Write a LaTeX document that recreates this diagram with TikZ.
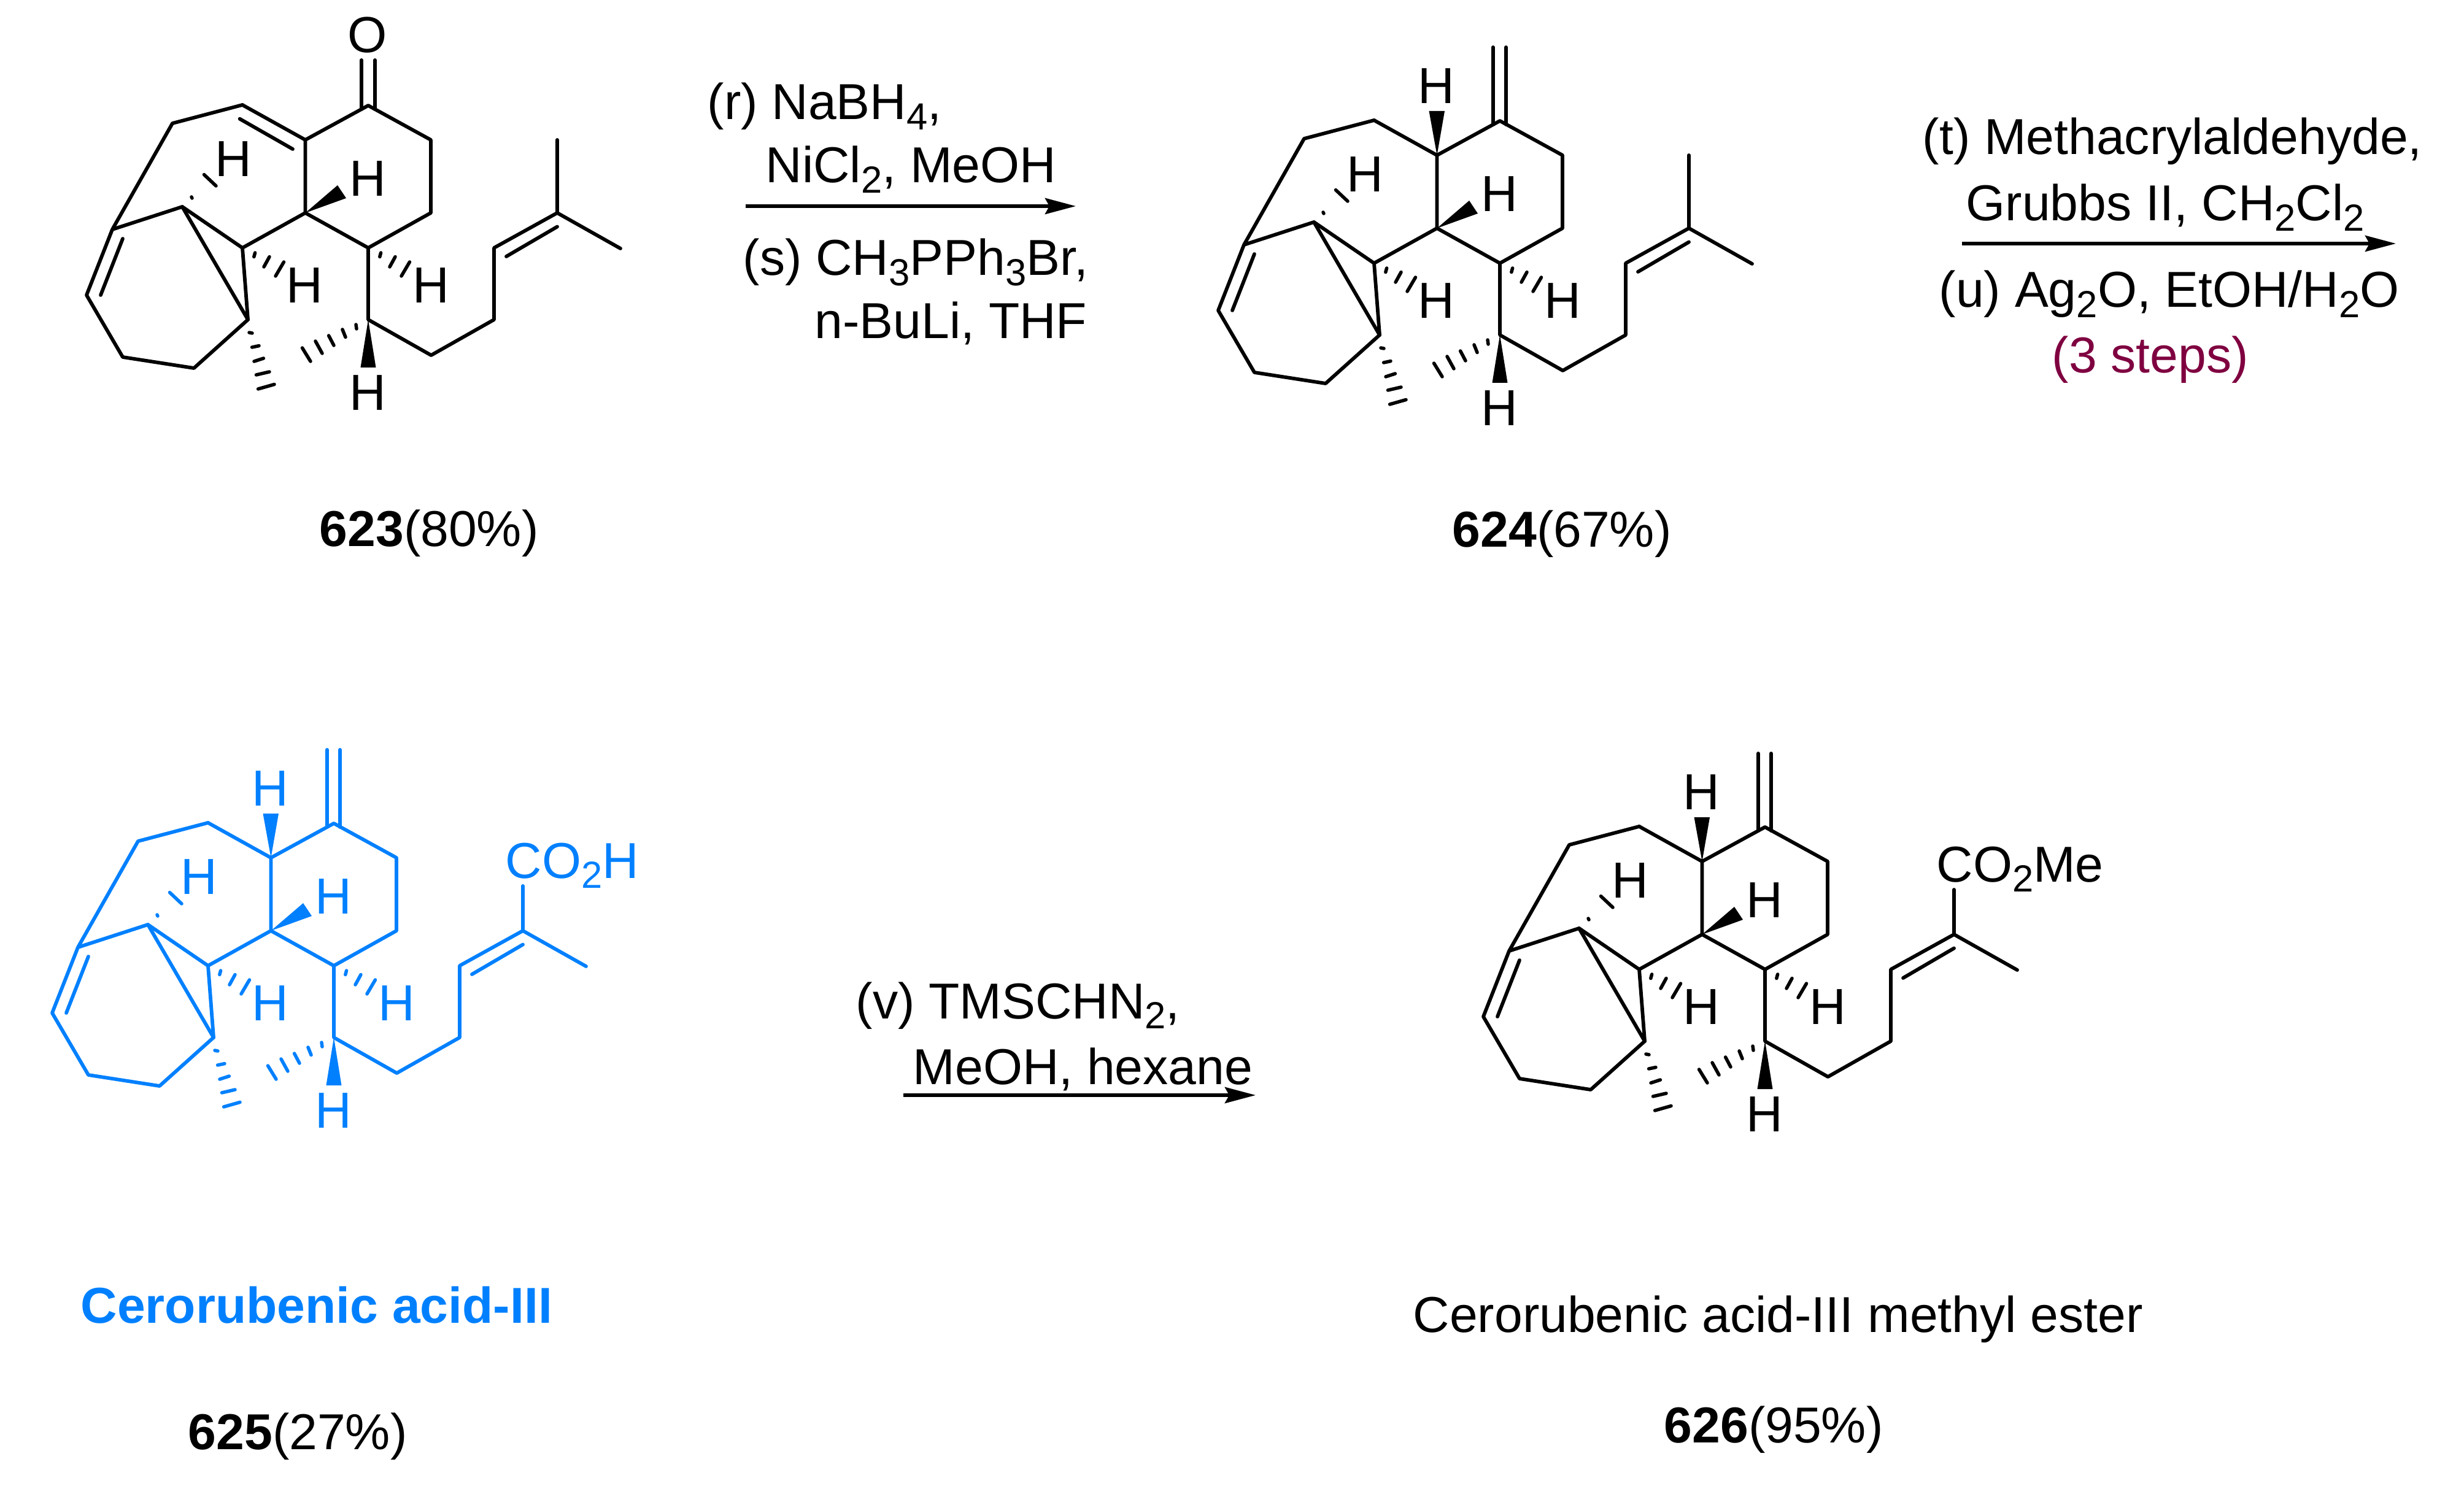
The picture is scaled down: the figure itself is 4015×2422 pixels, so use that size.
\documentclass[tikz,border=0pt]{standalone}
\usepackage{fontspec}
\setmainfont{Liberation Sans}
\usetikzlibrary{arrows.meta}
\definecolor{acidblue}{RGB}{0,128,255}
\definecolor{stepred}{RGB}{127,0,64}
\newcommand{\chemsub}[1]{\raisebox{-0.2em}{\fontsize{17.5}{17.5}\selectfont #1}}
\tikzset{
	bond/.style={line width=.058cm,line cap=round,line join=round},
	hashbond/.style={line width=.055cm,line cap=round},
	atom/.style={inner sep=0pt,font=\fontsize{23.5}{26}\selectfont},
	reagent/.style={anchor=base west,inner sep=0pt,font=\fontsize{23.4}{28}\selectfont},
	rxnarrow/.style={line width=.058cm,-{Stealth[length=.5cm,width=.26cm,inset=.07cm]}},
	% the ring system shared by all four molecules
	skeleton/.pic={
		\coordinate (c1) at (600,172);
		\coordinate (c2) at (702,228);
		\coordinate (c3) at (702,347);
		\coordinate (c4) at (600,404);
		\coordinate (c5) at (497.5,347);
		\coordinate (c6) at (497.5,228);
		\coordinate (c7) at (395,171);
		\coordinate (c8) at (281,201);
		\coordinate (c9) at (183,374);
		\coordinate (c10) at (141,481);
		\coordinate (c11) at (200,582);
		\coordinate (c12) at (316,600);
		\coordinate (c13) at (404,521);
		\coordinate (c14) at (297,337);
		\coordinate (c15) at (395,404);
		\coordinate (c16) at (600,521);
		\coordinate (c17) at (702.5,579);
		\coordinate (c18) at (805,521);
		\coordinate (c19) at (805,404);
		\coordinate (c20) at (908,347);
		\coordinate (c22) at (1011,405);
		\draw[bond] (c7)--(c8)--(c9)--(c10)--(c11)--(c12)--(c13)--(c14)--(c9);
		\draw[bond] (c6)--(c1)--(c2)--(c3)--(c4)--(c5)--(c6);
		\draw[bond] (c5)--(c15)--(c14) (c15)--(c13);
		\draw[bond] (c4)--(c16)--(c17)--(c18)--(c19)--(c20)--(c22);
		\draw[bond] (200,389)--(164,481) (825,418)--(908,369.5);
		\fill (c5)--(550,302)--(564,323)--cycle;
		\fill (c16)--(587.5,599)--(612.5,599)--cycle;
		\foreach \x/\y/\u/\v in {
			312/321/313/323, 332.5/284.6/352/303,
			415.6/412/413.8/418.6, 439/418.6/430/435, 462.5/427/449/450,
			620.6/412/618.8/418.6, 644/418.6/635/435, 667.5/427/654/450,
			580/529/581/536, 558/537/563/549.5, 535.6/547/544/563, 514/556/525/576, 492.5/567/506/589,
			406/542/411/543, 410.6/566/422/563.6, 414/589/429.4/584, 417.5/611/439/606, 420.6/634/447/626.5}
			\draw[hashbond] (\x,\y)--(\u,\v);
		\node[atom] (ha) at (380,259) {H};
		\node[atom] (hb) at (599,291) {H};
		\node[atom] (hc) at (496,465) {H};
		\node[atom] (hd) at (702,465) {H};
		\node[atom] (he) at (599,640) {H};
	},
	% exocyclic C=CH2 with the H on the ring fusion
	methylene/.pic={
		\draw[bond] (c6)--(c7);
		\draw[bond] (589,178)--(589,52) (610,178)--(610,52);
		\fill (c6)--(484.5,156)--(510,156)--cycle;
		\node[atom] (hf) at (496,115) {H};
	},
	isopropylidene/.pic={
		\coordinate (c21) at (908,228);
		\draw[bond] (c20)--(c21);
	},
	estertail/.pic={
		\coordinate (c21) at (908,274);
		\draw[bond] (c20)--(c21);
	}
}
\begin{document}
\begin{tikzpicture}[x=.01cm,y=-.01cm]
	\useasboundingbox (0,0) rectangle (4015,2422);
	% 623
	\pic (a) at (0,0) {skeleton};
	\pic (a) at (0,0) {isopropylidene};
	\draw[bond] (ac6)--(ac7) (390.6,193.7)--(477,243);
	\draw[bond] (589,98)--(589,178) (611,98)--(611,178);
	\node[atom] (oxo) at (599,57) {O};
	\node[reagent] (name623) at (520,891) {\textbf{623}(80\%)};
	% first arrow
	\node[reagent] (rgr) at (1152,195) {(r) NaBH\chemsub{4},};
	\node[reagent] (rgrb) at (1247,298) {NiCl\chemsub{2}, MeOH};
	\node[reagent] (rgs) at (1210,449) {(s) CH\chemsub{3}PPh\chemsub{3}Br,};
	\node[reagent] (rgsb) at (1327,552) {n-BuLi, THF};
	\coordinate (arrAs) at (1215,336);
	\coordinate (arrAe) at (1753,336);
	\draw[rxnarrow] (arrAs)--(arrAe);
	% 624
	\pic (b) at (1844,25) {skeleton};
	\pic (b) at (1844,25) {methylene};
	\pic (b) at (1844,25) {isopropylidene};
	\node[reagent] (name624) at (2366,892) {\textbf{624}(67\%)};
	% second arrow
	\node[reagent] (rgt) at (3132,252) {(t) Methacrylaldehyde,};
	\node[reagent] (rgtb) at (3203,360) {Grubbs II, CH\chemsub{2}Cl\chemsub{2}};
	\node[reagent] (rgu) at (3159,501) {(u) Ag\chemsub{2}O, EtOH/H\chemsub{2}O};
	\node[reagent,text=stepred] (rgsteps) at (3343,608) {(3 steps)};
	\coordinate (arrBs) at (3197,397);
	\coordinate (arrBe) at (3904,397);
	\draw[rxnarrow] (arrBs)--(arrBe);
	% 625
	\begin{scope}[color=acidblue]
		\pic (c) at (-56,1170) {skeleton};
		\pic (c) at (-56,1170) {methylene};
		\pic (c) at (-56,1170) {estertail};
		\node[reagent] (acid) at (823,1431) {CO\chemsub{2}H};
		\node[reagent] (name625a) at (131,2156) {\textbf{Cerorubenic acid-III}};
	\end{scope}
	\node[reagent] (name625) at (306,2362) {\textbf{625}(27\%)};
	% third arrow
	\node[reagent] (rgv) at (1394,1660) {(v) TMSCHN\chemsub{2},};
	\node[reagent] (rgvb) at (1487,1767) {MeOH, hexane};
	\coordinate (arrCs) at (1472,1785);
	\coordinate (arrCe) at (2046,1785);
	\draw[rxnarrow] (arrCs)--(arrCe);
	% 626
	\pic (d) at (2276,1176) {skeleton};
	\pic (d) at (2276,1176) {methylene};
	\pic (d) at (2276,1176) {estertail};
	\node[reagent] (ester) at (3155,1437) {CO\chemsub{2}Me};
	\node[reagent] (name626a) at (2302,2171) {Cerorubenic acid-III methyl ester};
	\node[reagent] (name626) at (2711,2351) {\textbf{626}(95\%)};
\end{tikzpicture}
\end{document}
